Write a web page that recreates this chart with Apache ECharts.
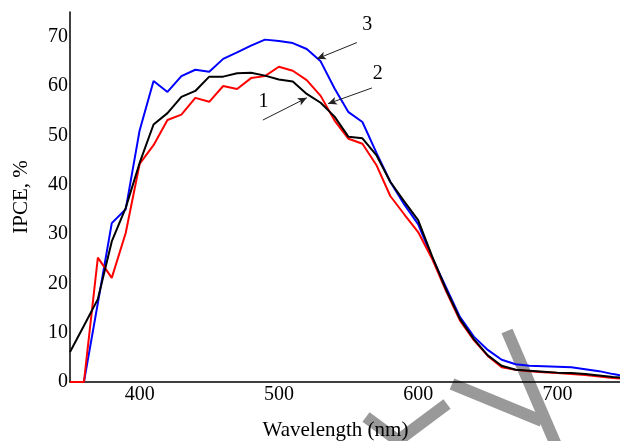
<!DOCTYPE html>
<html>
<head>
<meta charset="utf-8">
<script src="https://cdn.jsdelivr.net/npm/echarts@6/dist/echarts.min.js"></script>
<style>
html,body{margin:0;padding:0;background:#fff;}
#chart{width:620px;height:441px;}
</style>
</head>
<body>
<div id="chart"></div>
<script>
var wavelengths = [350,360,370,380,390,400,410,420,430,440,450,460,470,480,490,500,510,520,530,540,550,560,570,580,590,600,610,620,630,640,650,660,670,680,690,700,710,720,730,740,750];
var curve1 = [6.1,11.4,16.8,28.5,35.3,44.4,52.2,54.5,57.8,59.0,61.9,61.9,62.6,62.7,62.1,61.3,60.9,58.4,56.6,53.8,49.7,49.4,46.0,40.6,36.6,32.8,25.5,18.8,12.8,8.7,5.4,3.3,2.5,2.3,2.1,1.9,1.8,1.6,1.3,1.0,0.8];
var curve2 = [0,0,25.2,21.1,30.2,44.2,48.0,53.1,54.2,57.6,56.8,60.0,59.4,61.6,62.0,63.9,63.1,61.2,58.0,53.0,49.3,48.3,44.0,37.7,34.0,30.4,25.0,18.5,12.5,8.5,5.3,3.0,2.5,2.2,2.0,1.8,1.6,1.4,1.1,0.8,0.6];
var curve3 = [0,0,16.0,32.2,35.0,51.0,61.0,58.8,62.0,63.3,62.9,65.5,66.8,68.2,69.4,69.1,68.7,67.5,65.0,59.5,54.7,52.7,46.5,40.6,36.0,32.0,25.2,19.2,13.2,9.2,6.5,4.5,3.6,3.3,3.2,3.1,3.0,2.6,2.2,1.6,1.1];
var xTickLabels = [400,500,600,700];
var curveLabels = ['1','2','3'];
// annotation arrows: [labelPos, arrowStart, arrowEnd] in data units
var annot1 = [[489.0,56.8],[488.5,53.1],[520.1,57.6]];
var annot2 = [[571.0,62.5],[566.8,59.6],[535.2,56.4]];
var annot3 = [[563.5,72.4],[556.0,68.8],[527.3,65.5]];

function pairs(ys){ return wavelengths.map(function(x,i){ return [x, ys[i]]; }); }
var FONT = 'Liberation Serif';
var chart = echarts.init(document.getElementById('chart'), null, {renderer:'canvas'});

function arrowMark(a){
  return {
    silent:true,
    symbol:['none','arrow'],
    symbolSize:[6,9],
    label:{show:false},
    lineStyle:{color:'#222', width:1, type:'solid'},
    data:[[{coord:a[1]},{coord:a[2]}]]
  };
}
function labelMark(a, txt){
  return {
    silent:true,
    symbol:'circle', symbolSize:1,
    itemStyle:{color:'rgba(0,0,0,0)'},
    label:{show:true, position:'inside', formatter:txt, color:'#000', fontFamily:FONT, fontSize:20},
    data:[{coord:a[0]}]
  };
}

var option = {
  animation:false,
  backgroundColor:'#fff',
  grid:{left:70, right:-7, top:12, bottom:59, containLabel:false, outerBoundsMode:'none'},
  xAxis:{
    type:'value', min:350, max:750, interval:50,
    name:'Wavelength (nm)', nameLocation:'middle', nameGap:38,
    nameTextStyle:{color:'#000', fontFamily:FONT, fontSize:21, padding:[0,26,0,0]},
    axisLine:{show:true, lineStyle:{color:'#000', width:1.5}},
    axisTick:{show:false},
    splitLine:{show:false},
    axisLabel:{color:'#000', fontFamily:FONT, fontSize:20, margin:3,
      formatter:function(v){ return xTickLabels.indexOf(v) >= 0 ? String(v) : ''; }}
  },
  yAxis:{
    type:'value', min:0, max:75, interval:10,
    name:'IPCE, %', nameLocation:'middle', nameGap:38, nameRotate:90,
    nameTextStyle:{color:'#000', fontFamily:FONT, fontSize:21},
    axisLine:{show:true, lineStyle:{color:'#000', width:1.5}},
    axisTick:{show:false},
    splitLine:{show:false},
    axisLabel:{color:'#000', fontFamily:FONT, fontSize:20, margin:2, showMaxLabel:false,
      formatter:function(v){ return v % 10 === 0 ? String(v) : ''; }}
  },
  series:[
    {type:'line', name:curveLabels[1], data:pairs(curve2), showSymbol:false, symbol:'none', lineStyle:{color:'#ff0000', width:2}, z:3,
      markLine:arrowMark(annot2), markPoint:labelMark(annot2, curveLabels[1])},
    {type:'line', name:curveLabels[2], data:pairs(curve3), showSymbol:false, symbol:'none', lineStyle:{color:'#0000ff', width:2}, z:2,
      markLine:arrowMark(annot3), markPoint:labelMark(annot3, curveLabels[2])},
    {type:'line', name:curveLabels[0], data:pairs(curve1), showSymbol:false, symbol:'none', lineStyle:{color:'#000000', width:2}, z:4,
      markLine:arrowMark(annot1), markPoint:labelMark(annot1, curveLabels[0])}
  ],
  graphic:[
    {type:'group', silent:true, z:-10, zlevel:0, children:[
      {type:'line', z:-10, shape:{x1:507,y1:331,x2:556,y2:445}, style:{stroke:'#999', lineWidth:12}},
      {type:'line', z:-10, shape:{x1:452,y1:384,x2:542,y2:421}, style:{stroke:'#999', lineWidth:12}},
      {type:'line', z:-10, shape:{x1:366,y1:417,x2:404,y2:445}, style:{stroke:'#999', lineWidth:12}},
      {type:'line', z:-10, shape:{x1:392,y1:445,x2:447,y2:404}, style:{stroke:'#999', lineWidth:12}}
    ]}
  ]
};
chart.setOption(option);
</script>
</body>
</html>
